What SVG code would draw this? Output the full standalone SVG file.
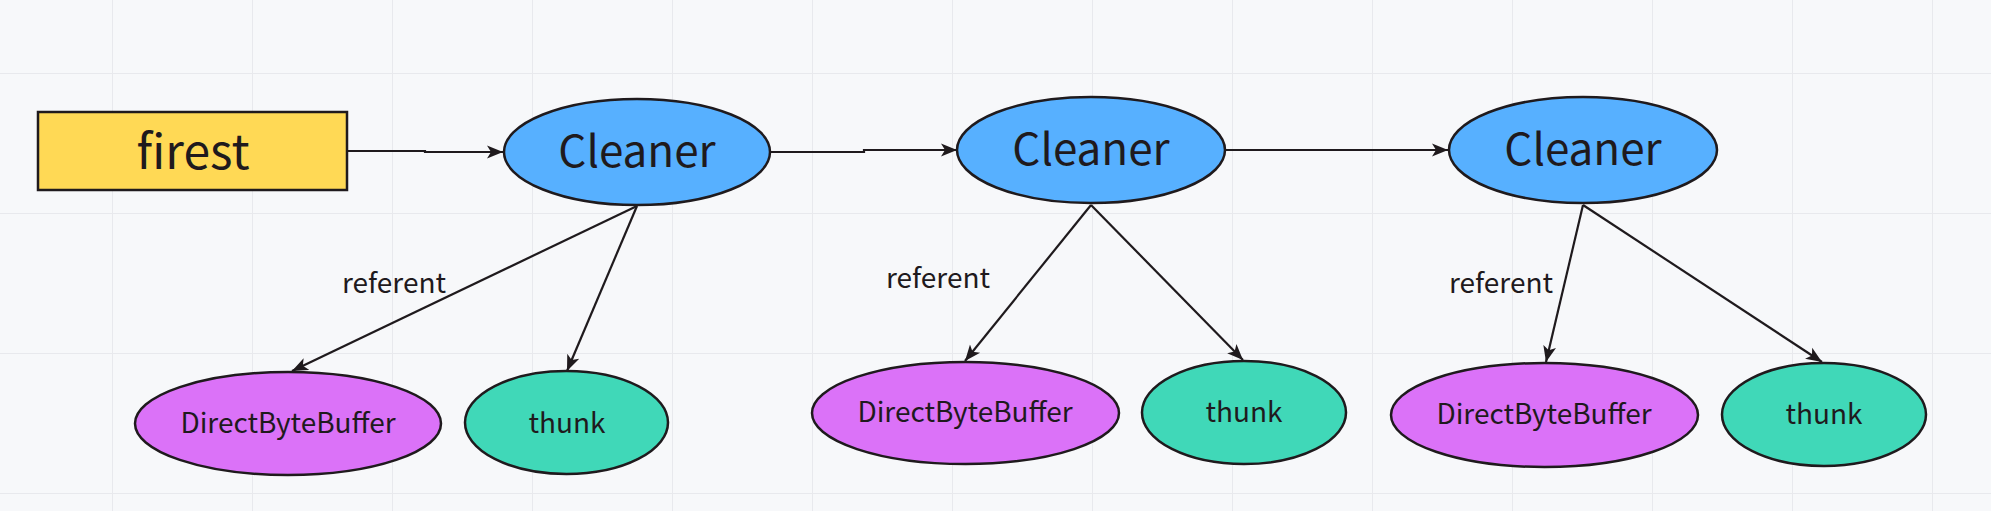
<svg xmlns="http://www.w3.org/2000/svg" width="1991" height="511" viewBox="0 0 1991 511">
<defs>
<pattern id="grid" x="-28" y="-67" width="140" height="140" patternUnits="userSpaceOnUse">
<path d="M0,0 L0,140 M0,0 L140,0" fill="none" stroke="#e8e9ed" stroke-width="2"/>
</pattern>
<marker id="arr" markerUnits="userSpaceOnUse" markerWidth="17" markerHeight="15" viewBox="0 0 17 15" refX="16" refY="7.5" orient="auto">
<path d="M0,1 L16,7.5 L0,14 L4,7.5 z" fill="#1f1a1d"/>
</marker>
</defs>
<style>
.t{font-family:"Noto Sans CJK SC","Noto Sans",sans-serif;fill:#1f1a1d;text-anchor:middle}
.n{stroke:#1f1a1d;stroke-width:2.5}
.e{fill:none;stroke:#1f1a1d;stroke-width:2.2;marker-end:url(#arr)}
.cl{fill:#57b0ff}
.db{fill:#db72f8}
.th{fill:#40d8b8}
</style>
<rect width="1991" height="511" fill="#f7f8fa"/>
<rect width="1991" height="511" fill="url(#grid)"/>
<g id="connectors">
<path class="e" d="M347,151 L425,151 L425,152 L503,152"/>
<path class="e" d="M771,152 L864,152 L864,150 L957,150"/>
<path class="e" d="M1226,150 L1448,150"/>
<path class="e" d="M637,206 L292,371"/>
<path class="e" d="M637,206 L567,371"/>
<path class="e" d="M1091,205 L965,361"/>
<path class="e" d="M1091,205 L1243,360"/>
<path class="e" d="M1583,205 L1546,362"/>
<path class="e" d="M1583,205 L1822,362"/>
<text class="t" x="394" y="293" font-size="28">referent</text>
<text class="t" x="938" y="288" font-size="28">referent</text>
<text class="t" x="1501" y="293" font-size="28">referent</text>
</g>
<g id="firest">
<rect class="n" x="38" y="112" width="309" height="78" fill="#ffd955"/>
<text class="t" x="193" y="169" font-size="48">firest</text>
</g>
<g id="cleaner1">
<ellipse class="n cl" cx="637" cy="152" rx="133" ry="53"/>
<text class="t" x="637" y="167" font-size="44">Cleaner</text>
</g>
<g id="dbb1">
<ellipse class="n db" cx="288" cy="423.5" rx="153" ry="51.5"/>
<text class="t" x="288" y="433" font-size="28">DirectByteBuffer</text>
</g>
<g id="thunk1">
<ellipse class="n th" cx="566.5" cy="422.5" rx="101.5" ry="51.5"/>
<text class="t" x="567" y="433" font-size="28">thunk</text>
</g>
<g id="cleaner2">
<ellipse class="n cl" cx="1091" cy="150" rx="134" ry="53"/>
<text class="t" x="1091" y="165" font-size="44">Cleaner</text>
</g>
<g id="dbb2">
<ellipse class="n db" cx="965.5" cy="413" rx="153.5" ry="51"/>
<text class="t" x="965" y="422" font-size="28">DirectByteBuffer</text>
</g>
<g id="thunk2">
<ellipse class="n th" cx="1244" cy="412.5" rx="102" ry="51.5"/>
<text class="t" x="1244" y="422" font-size="28">thunk</text>
</g>
<g id="cleaner3">
<ellipse class="n cl" cx="1583" cy="150" rx="134" ry="53"/>
<text class="t" x="1583" y="165" font-size="44">Cleaner</text>
</g>
<g id="dbb3">
<ellipse class="n db" cx="1544.5" cy="415" rx="153.5" ry="52"/>
<text class="t" x="1544" y="424" font-size="28">DirectByteBuffer</text>
</g>
<g id="thunk3">
<ellipse class="n th" cx="1824" cy="414.5" rx="102" ry="51.5"/>
<text class="t" x="1824" y="424" font-size="28">thunk</text>
</g>
</svg>
